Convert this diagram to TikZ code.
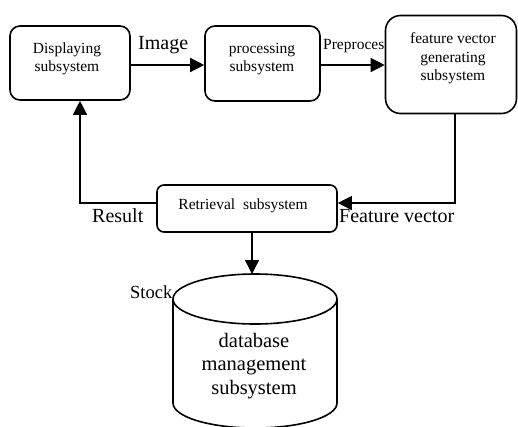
\documentclass[tikz,border=0pt]{standalone}
\usepackage{fontspec}
\setmainfont{Liberation Serif}
\usetikzlibrary{arrows.meta}
\begin{document}
\begin{tikzpicture}[x=1pt,y=-1pt,
  box/.style={draw,line width=1.6pt,rectangle,inner sep=0pt},
  conn/.style={line width=1.3pt,-{Triangle[length=14pt,width=14pt]}},
  small/.style={font=\fontsize{15.5}{18}\selectfont,inner sep=0pt,anchor=base,align=center},
  big/.style={font=\fontsize{20}{24}\selectfont,inner sep=0pt,anchor=base west},
  dbtext/.style={font=\fontsize{20.5}{23.5}\selectfont,inner sep=0pt,anchor=base}]
\useasboundingbox (0,0) rectangle (518,426);
\clip (0,0) rectangle (518,426);
% boxes
\node[box,rounded corners=10pt,minimum width=120pt,minimum height=74pt] (disp) at (70,63) {};
\node[box,rounded corners=10pt,minimum width=115pt,minimum height=75pt] (proc) at (262.5,63.5) {};
\node[box,rounded corners=15pt,minimum width=131pt,minimum height=98pt] (feat) at (451,64.5) {};
\node[box,rounded corners=7pt,minimum width=180pt,minimum height=47pt] (ret) at (247,208.5) {};
% box texts
\node[small] (t1a) at (67,53) {Displaying};
\node[small] (t1b) at (67,71) {subsystem};
\node[small] (t2a) at (262,53) {processing};
\node[small] (t2b) at (262,71) {subsystem};
\node[small] (t3a) at (453,43) {feature vector};
\node[small] (t3b) at (453,62) {generating};
\node[small] (t3c) at (453,80) {subsystem};
\node[small] (t4) at (243,209) {Retrieval\ \ subsystem};
% labels
\node[big] (limage) at (138,49) {Image};
\node[small,anchor=base west] (lpre) at (323,49) {Preproces};
\node[big] (lres) at (92,222) {Result};
\node[big] (lfeat) at (339,222) {Feature vector};
\node[big,font=\fontsize{18.5}{22}\selectfont] (lstock) at (130,298) {Stock};
% cylinder
\coordinate (dbtop) at (252,274);
\fill[white] (173,299) -- (173,403) arc[start angle=180,end angle=0,x radius=82,y radius=25] -- (337,299) arc[start angle=0,end angle=-180,x radius=82,y radius=25] -- cycle;
\draw[line width=1.6pt] (173,299) -- (173,403) arc[start angle=180,end angle=0,x radius=82,y radius=25] -- (337,299);
\draw[line width=1.6pt] (255,299) ellipse[x radius=82,y radius=25];
\node[dbtext] (db1) at (254,347) {database};
\node[dbtext] (db2) at (254,370) {management};
\node[dbtext] (db3) at (254,394) {subsystem};
% connectors
\draw[conn] ([yshift=-2pt]disp.east) -- ([yshift=-2pt]disp.east -| proc.west);
\draw[conn] ([yshift=-1.5pt]proc.east) -- ([yshift=-1.5pt]proc.east -| feat.west);
\draw[conn] ([xshift=4pt]feat.south) |- ([yshift=5.5pt]ret.east);
\draw[conn] ([yshift=5.5pt]ret.west) -| ([xshift=10pt]disp.south);
\draw[conn] ([xshift=5pt]ret.south) -- (dbtop);
\end{tikzpicture}
\end{document}
